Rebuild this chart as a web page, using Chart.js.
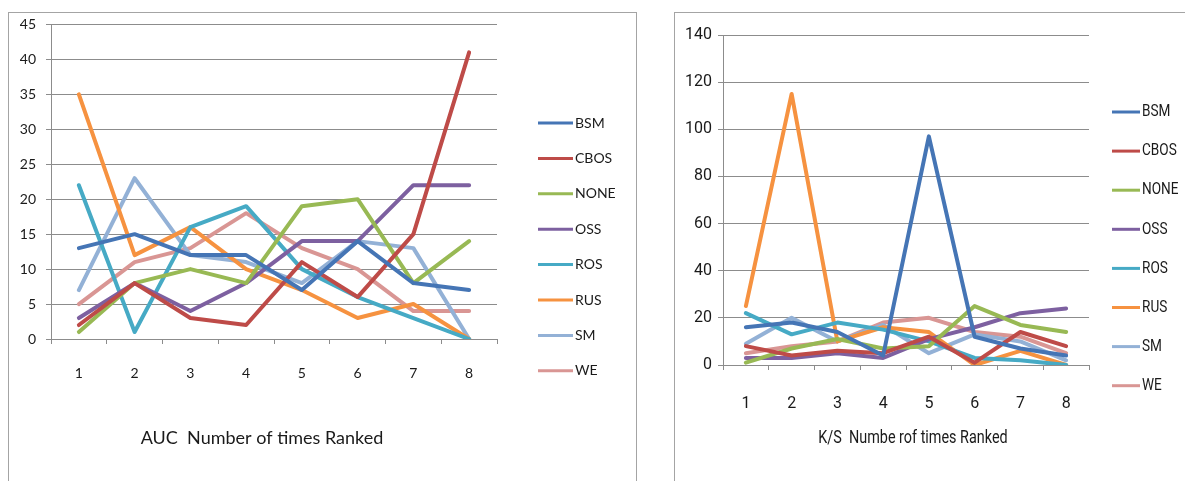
<!DOCTYPE html>
<html>
<head>
<meta charset="utf-8">
<script src="https://cdn.jsdelivr.net/npm/chart.js@4/dist/chart.umd.min.js"></script>
<style>
    body { margin: 0; background: #fff; width: 1185px; height: 481px; overflow: hidden; position: relative; }
    .box { position: absolute; border: 1px solid #a4a4a4; }
    #box-auc { left: 8px; top: 12px; width: 627px; height: 480px; }
    #box-ks { left: 674px; top: 12px; width: 520px; height: 480px; }
    canvas { position: absolute; }
    #auc-chart { left: 9px; top: 6px; }
    #ks-chart { left: 675px; top: 13px; }
</style>
</head>
<body>
<div class="box" id="box-auc"></div>
<div class="box" id="box-ks"></div>
<canvas id="auc-chart" width="625" height="475"></canvas>
<canvas id="ks-chart" width="510" height="468"></canvas>
<script>
// categories (rank positions)
var categories = ['1', '2', '3', '4', '5', '6', '7', '8'];
var seriesNames = ['BSM', 'CBOS', 'NONE', 'OSS', 'ROS', 'RUS', 'SM', 'WE'];

// AUC - number of times ranked
var aucBSM  = [13, 15, 12, 12, 7, 14, 8, 7];
var aucCBOS = [2, 8, 3, 2, 11, 6, 15, 41];
var aucNONE = [1, 8, 10, 8, 19, 20, 8, 14];
var aucOSS  = [3, 8, 4, 8, 14, 14, 22, 22];
var aucROS  = [22, 1, 16, 19, 10, 6, 3, 0];
var aucRUS  = [35, 12, 16, 10, 7, 3, 5, 0];
var aucSM   = [7, 23, 12, 11, 8, 14, 13, 0];
var aucWE   = [5, 11, 13, 18, 13, 10, 4, 4];

// K/S - number of times ranked
var ksBSM  = [16, 18, 14, 4, 97, 12, 7, 4];
var ksCBOS = [8, 4, 6, 5, 12, 1, 14, 8];
var ksNONE = [1, 7, 11, 7, 8, 25, 17, 14];
var ksOSS  = [3, 3, 5, 3, 11, 16, 22, 24];
var ksROS  = [22, 13, 18, 15, 10, 3, 2, 0];
var ksRUS  = [25, 115, 10, 16, 14, 0, 6, 0];
var ksSM   = [9, 20, 10, 17, 5, 13, 10, 2];
var ksWE   = [5, 8, 10, 18, 20, 14, 12, 5];

var aucTicks = { min: 0, max: 45, step: 5 };
var ksTicks = { min: 0, max: 140, step: 20 };

var seriesColors = ['#4575b5', '#be4b48', '#98b954', '#7d60a0', '#46aac5', '#f69240', '#93b1d6', '#d99694'];
var gridColor = '#8c8c8c';

// legend + caption drawn at fixed places, like the Excel export
var sideText = {
    id: 'sideText',
    afterDraw: function (chart, args, opts) {
        var ctx = chart.ctx;
        var sx = opts.squeeze || 1;
        ctx.save();
        ctx.font = opts.font;
        ctx.fillStyle = '#1a1a1a';
        ctx.textBaseline = 'middle';
        ctx.textAlign = 'left';
        chart.data.datasets.forEach(function (ds, i) {
            var y = opts.legendTop + i * opts.legendStep;
            ctx.strokeStyle = ds.borderColor;
            ctx.lineWidth = 3;
            ctx.beginPath();
            ctx.moveTo(opts.lineX0, y);
            ctx.lineTo(opts.lineX1, y);
            ctx.stroke();
            ctx.save();
            ctx.translate(opts.textX, y);
            ctx.scale(sx, 1);
            ctx.fillText(ds.label, 0, 0);
            ctx.restore();
        });
        ctx.font = opts.captionFont;
        ctx.textAlign = 'center';
        ctx.translate(opts.captionX, opts.captionY);
        ctx.scale(sx, 1);
        ctx.fillText(opts.caption, 0, 0);
        ctx.restore();
    }
};

function makeDatasets(values) {
    return seriesNames.map(function (name, i) {
        return {
            label: name,
            data: values[i],
            borderColor: seriesColors[i],
            backgroundColor: seriesColors[i],
            borderWidth: 4,
            pointRadius: 0,
            tension: 0,
            borderJoinStyle: 'round',
            borderCapStyle: 'round'
        };
    });
}

function makeChart(id, values, ticks, cfg) {
    return new Chart(document.getElementById(id), {
        type: 'line',
        data: { labels: categories, datasets: makeDatasets(values) },
        plugins: [sideText],
        options: {
            responsive: false,
            animation: false,
            events: [],
            layout: { padding: { left: 0, top: cfg.top, right: cfg.right, bottom: 0 } },
            plugins: {
                legend: { display: false },
                tooltip: { enabled: false },
                sideText: cfg.side
            },
            scales: {
                x: {
                    offset: true,
                    grid: { offset: true, drawOnChartArea: false, tickLength: 5, color: gridColor },
                    border: { color: gridColor },
                    ticks: { color: '#1a1a1a', font: cfg.tickFont, padding: cfg.xPad, maxRotation: 0 },
                    afterFit: function (scale) { scale.height = cfg.xHeight; }
                },
                y: {
                    min: ticks.min,
                    max: ticks.max,
                    grid: { color: gridColor, tickLength: 5 },
                    border: { color: gridColor },
                    ticks: { stepSize: ticks.step, color: '#1a1a1a', font: cfg.tickFont, padding: cfg.yPad },
                    afterFit: function (scale) { scale.width = cfg.yWidth; }
                }
            }
        }
    });
}

var AucChart = makeChart('auc-chart',
    [aucBSM, aucCBOS, aucNONE, aucOSS, aucROS, aucRUS, aucSM, aucWE], aucTicks, {
        top: 18, right: 137, xHeight: 142, yWidth: 42, xPad: 21, yPad: 10,
        tickFont: { family: 'Lato, "Open Sans", sans-serif', size: 14 },
        side: {
            font: '14px Lato, "Open Sans", sans-serif',
            captionFont: '18px Lato, "Open Sans", sans-serif',
            caption: 'AUC  Number of times Ranked',
            captionX: 253, captionY: 432,
            lineX0: 529, lineX1: 564, textX: 566,
            legendTop: 117, legendStep: 35.4
        }
    });

var KsChart = makeChart('ks-chart',
    [ksBSM, ksCBOS, ksNONE, ksOSS, ksROS, ksRUS, ksSM, ksWE], ksTicks, {
        top: 22, right: 96, xHeight: 116, yWidth: 48, xPad: 24, yPad: 6,
        tickFont: { family: 'Roboto, sans-serif', size: 16 },
        side: {
            font: '17px Roboto, sans-serif',
            captionFont: '18px Roboto, sans-serif',
            squeeze: 0.8,
            caption: 'K/S  Numbe rof times Ranked',
            captionX: 238, captionY: 425,
            lineX0: 437, lineX1: 465, textX: 467,
            legendTop: 99, legendStep: 39.1
        }
    });
</script>
</body>
</html>
